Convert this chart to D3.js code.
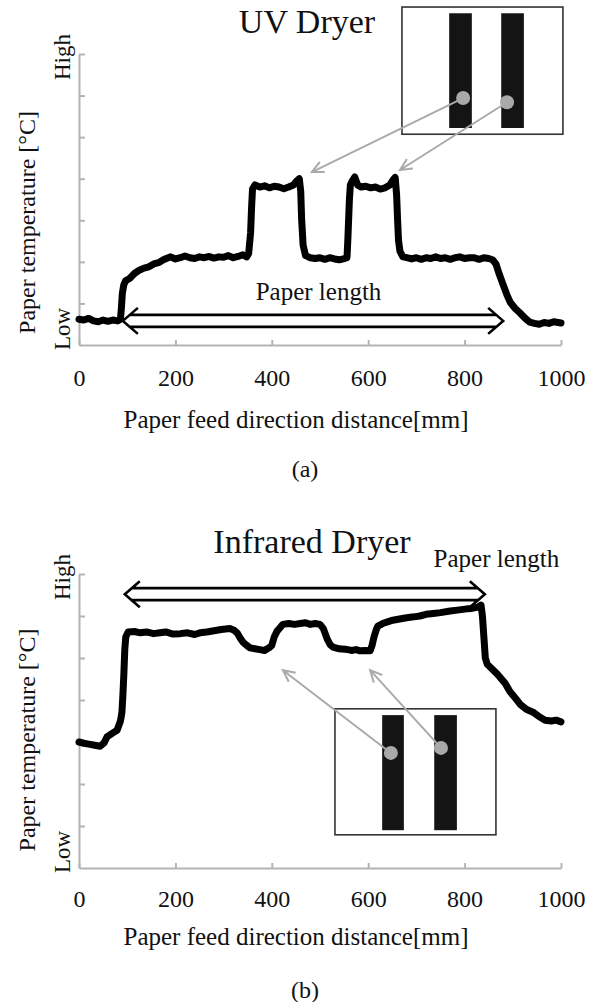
<!DOCTYPE html>
<html><head><meta charset="utf-8">
<script src="https://cdn.jsdelivr.net/npm/d3@7"></script>
<style>
body{margin:0;background:#fff}
svg{display:block}
text{font-family:"Liberation Serif","Times New Roman",serif;fill:#111}
</style>
</head><body>
<svg id="c" width="598" height="1002"></svg>
<script>
// ---------- data ----------
const xTicks = [0, 200, 400, 600, 800, 1000];
const yTicks = [1, 2, 3, 4, 5, 6, 7];

// (a) UV dryer : paper feed distance [mm] vs relative temperature (0 = Low axis, 7 = High)
const uvX = [0,10,20,30,40,50,60,70,80,86,88,90,93,97,105,115,125,135,145,155,165,175,185,190,200,210,220,230,240,250,260,270,280,290,300,310,320,330,340,348,352,356,358,360,365,375,385,395,405,415,425,435,445,452,457,460,462,465,470,480,490,500,510,520,530,540,550,556,558,561,563,567,572,578,585,595,605,615,625,635,645,652,656,659,661,663,666,672,680,690,700,710,720,730,740,750,760,770,780,790,800,810,820,830,840,850,858,865,872,880,888,895,905,915,925,935,945,955,965,975,985,1000];
const uvY = [0.62,0.6,0.64,0.58,0.56,0.6,0.57,0.6,0.58,0.62,0.9,1.25,1.45,1.55,1.6,1.72,1.8,1.85,1.88,1.95,1.98,2.05,2.1,2.12,2.07,2.1,2.14,2.1,2.08,2.12,2.1,2.13,2.09,2.12,2.11,2.15,2.1,2.13,2.17,2.12,2.2,2.7,3.3,3.75,3.85,3.8,3.83,3.78,3.82,3.8,3.76,3.8,3.85,3.95,4.0,3.7,3.0,2.4,2.15,2.1,2.08,2.1,2.06,2.1,2.07,2.05,2.08,2.1,2.6,3.5,3.85,3.95,4.04,3.85,3.8,3.82,3.78,3.8,3.75,3.78,3.85,3.98,4.03,3.6,3.0,2.5,2.25,2.12,2.1,2.07,2.1,2.06,2.1,2.08,2.12,2.08,2.1,2.06,2.1,2.12,2.08,2.1,2.1,2.06,2.1,2.08,2.05,1.95,1.7,1.45,1.2,1.02,0.88,0.77,0.65,0.55,0.52,0.5,0.54,0.52,0.56,0.53];

// (b) Infrared dryer
const irX = [0,10,20,30,44,52,58,68,79,86,89,91,93,95,97,102,115,127,140,155,168,180,195,210,225,240,251,265,280,295,313,322,328,334,340,348,355,365,375,385,395,400,405,411,417,423,435,447,459,470,480,490,500,507,515,521,527,540,552,565,575,583,595,604,608,612,616,620,630,640,651,665,680,695,707,720,735,750,770,785,805,815,828,834,837,840,843,847,857,865,873,884,894,905,915,928,942,955,967,980,990,1000];
const irY = [3.0,2.97,2.95,2.93,2.9,2.98,3.12,3.2,3.28,3.5,3.7,4.1,4.6,5.2,5.5,5.62,5.63,5.6,5.62,5.58,5.6,5.62,5.57,5.58,5.6,5.56,5.6,5.62,5.65,5.68,5.7,5.66,5.6,5.48,5.38,5.3,5.24,5.22,5.2,5.18,5.25,5.3,5.5,5.64,5.72,5.8,5.82,5.8,5.82,5.84,5.8,5.82,5.8,5.7,5.45,5.32,5.26,5.22,5.21,5.18,5.2,5.17,5.18,5.17,5.3,5.5,5.65,5.76,5.82,5.86,5.9,5.93,5.96,5.98,6.0,6.04,6.06,6.08,6.12,6.14,6.17,6.18,6.21,6.26,6.0,5.5,5.0,4.85,4.74,4.65,4.55,4.4,4.2,4.05,3.9,3.78,3.71,3.6,3.52,3.5,3.52,3.48];

// ---------- drawing ----------
const svg = d3.select("#c");
const FONT_AX = 24;

function drawPanel(p) {
  const x = d3.scaleLinear().domain([0, 1000]).range([79, 561]);
  const y = d3.scaleLinear().domain([0, 7]).range([p.bottom, p.top]);
  const g = svg.append("g");

  // axes
  const ax = g.append("g").attr("transform", `translate(0,${p.bottom})`)
    .call(d3.axisBottom(x).tickValues(xTicks).tickSize(-5).tickSizeOuter(0).tickPadding(p.tickPad).tickFormat(d3.format("d")));
  const ay = g.append("g").attr("transform", "translate(79,0)")
    .call(d3.axisLeft(y).tickValues(yTicks).tickSize(-6).tickSizeOuter(0).tickFormat(""));
  [ax, ay].forEach(a => {
    a.selectAll("path,line").attr("stroke", "#b4b4b4").attr("stroke-width", 2);
  });
  ax.selectAll("text").attr("font-size", FONT_AX).attr("fill", "#111")
    .style("font-family", '"Liberation Serif","Times New Roman",serif');

  // curve
  const line = d3.line().x((d, i) => x(p.xs[i])).y((d, i) => y(p.ys[i]));
  g.append("path").datum(p.ys).attr("d", line)
    .attr("fill", "none").attr("stroke", "#000").attr("stroke-width", 7)
    .attr("stroke-linejoin", "round").attr("stroke-linecap", "round");

  // titles & labels
  g.append("text").attr("x", p.titleX).attr("y", p.titleY).attr("text-anchor", "middle")
    .attr("font-size", 34).text(p.title);
  g.append("text").attr("transform", `translate(35,${(p.top + p.bottom) / 2 + p.ytOff}) rotate(-90)`)
    .attr("text-anchor", "middle").attr("font-size", 24).text("Paper temperature [°C]");
  g.append("text").attr("transform", `translate(70,${p.top + 3}) rotate(-90)`)
    .attr("text-anchor", "middle").attr("font-size", 23).text("High");
  g.append("text").attr("transform", `translate(70,${p.bottom + 5}) rotate(-90)`)
    .attr("text-anchor", "start").attr("font-size", 23).text("Low");
  g.append("text").attr("x", 296).attr("y", p.bottom + p.xtOff).attr("text-anchor", "middle")
    .attr("font-size", 25).text("Paper feed direction distance[mm]");
  g.append("text").attr("x", 305).attr("y", p.bottom + p.subOff).attr("text-anchor", "middle")
    .attr("font-size", 24).text(p.sub);

  // paper length double arrow
  const a = p.len;
  const xl = x(a.x0), xr = x(a.x1), yc = y(a.y);
  const hl = 15, hh = 13, gap = 6, off = hl * gap / hh;
  const arr = `M${xl + hl},${yc - hh}L${xl},${yc}L${xl + hl},${yc + hh}` +
    `M${xr - hl},${yc - hh}L${xr},${yc}L${xr - hl},${yc + hh}` +
    `M${xl + off},${yc - gap}L${xr - off},${yc - gap}` +
    `M${xl + off},${yc + gap}L${xr - off},${yc + gap}`;
  g.append("path").attr("d", arr).attr("fill", "none").attr("stroke", "#000")
    .attr("stroke-width", 2.6).attr("stroke-linejoin", "miter");
  g.append("text").attr("x", x(a.tx)).attr("y", y(a.ty)).attr("text-anchor", "middle")
    .attr("font-size", 25).text("Paper length");

  // inset diagram
  const b = p.inset;
  g.append("rect").attr("x", x(b.x0)).attr("y", y(b.y1)).attr("width", x(b.x1) - x(b.x0))
    .attr("height", y(b.y0) - y(b.y1)).attr("fill", "#fff").attr("stroke", "#333").attr("stroke-width", 1.6);
  b.bars.forEach(br => {
    g.append("rect").attr("x", x(br[0])).attr("y", y(b.by1)).attr("width", x(br[1]) - x(br[0]))
      .attr("height", y(b.by0) - y(b.by1)).attr("fill", "#141414");
  });
  b.pts.forEach((pt, i) => {
    const sx = x(pt[0]), sy = y(pt[1]), tx = x(b.tips[i][0]), ty = y(b.tips[i][1]);
    const ang = Math.atan2(sy - ty, sx - tx), L = 13, w = 0.45;
    g.append("path").attr("d",
      `M${sx},${sy}L${tx},${ty}M${tx + L * Math.cos(ang + w)},${ty + L * Math.sin(ang + w)}L${tx},${ty}L${tx + L * Math.cos(ang - w)},${ty + L * Math.sin(ang - w)}`)
      .attr("fill", "none").attr("stroke", "#aaa").attr("stroke-width", 2);
    g.append("circle").attr("cx", sx).attr("cy", sy).attr("r", 7).attr("fill", "#a9a9a9");
  });
}

drawPanel({
  top: 54, bottom: 345, xs: uvX, ys: uvY, title: "UV Dryer", titleX: 307, titleY: 33,
  tickPad: 24, xtOff: 83, subOff: 132, sub: "(a)", ytOff: 23,
  len: {x0: 91, x1: 880, y: 0.58, tx: 497, ty: 1.08},
  inset: {x0: 670, x1: 1004, y0: 5.07, y1: 8.13, by0: 5.22, by1: 7.98,
    bars: [[768, 815], [876, 923]], pts: [[797, 5.94], [888, 5.84]], tips: [[483, 4.16], [666, 4.21]]}
});
drawPanel({
  top: 574, bottom: 868, xs: irX, ys: irY, title: "Infrared Dryer", titleX: 312, titleY: 553,
  tickPad: 22, xtOff: 77, subOff: 130, sub: "(b)", ytOff: 19,
  len: {x0: 95, x1: 842, y: 6.52, tx: 866, ty: 7.17},
  inset: {x0: 531, x1: 865, y0: 0.79, y1: 3.79, by0: 0.9, by1: 3.64,
    bars: [[629, 674], [737, 784]], pts: [[647, 2.74], [751, 2.86]], tips: [[423, 4.71], [604, 4.71]]}
});
</script>
</body></html>
